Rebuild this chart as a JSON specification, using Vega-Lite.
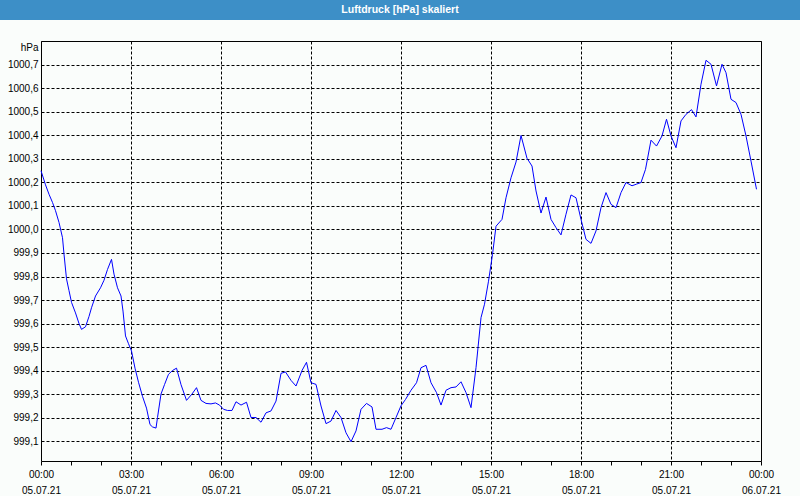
{
  "$schema": "https://vega.github.io/schema/vega-lite/v6.json",
  "padding": 0,
  "background": "#fafdfb",
  "spacing": 20,
  "vconcat": [
    {
      "width": 800,
      "height": 20,
      "view": {"fill": "#3d8fc7", "stroke": null},
      "data": {"values": [{"label": "Luftdruck [hPa] skaliert"}]},
      "mark": {"type": "text", "color": "white", "font": "Liberation Sans", "fontWeight": "bold", "fontSize": 10.5, "baseline": "middle", "align": "center"},
      "encoding": {"text": {"field": "label", "type": "nominal"}}
    },
    {
      "spacing": 0,
      "hconcat": [
        {
          "width": 1,
          "height": 420,
          "view": {"stroke": null},
          "data": {"values": [{"a": 1}]},
          "mark": {"type": "point", "opacity": 0, "size": 0, "strokeWidth": 0},
          "encoding": {}
        },
        {
          "width": 720,
          "height": 420,
          "view": {"stroke": "black", "strokeWidth": 1},
          "data": {"values": [
            {"t": "2021-07-05T00:00", "v": 1000.25},
            {"t": "2021-07-05T00:09", "v": 1000.19},
            {"t": "2021-07-05T00:16", "v": 1000.15},
            {"t": "2021-07-05T00:23", "v": 1000.115},
            {"t": "2021-07-05T00:29", "v": 1000.08},
            {"t": "2021-07-05T00:36", "v": 1000.03},
            {"t": "2021-07-05T00:43", "v": 999.965},
            {"t": "2021-07-05T00:46", "v": 999.895},
            {"t": "2021-07-05T00:51", "v": 999.79},
            {"t": "2021-07-05T00:56", "v": 999.74},
            {"t": "2021-07-05T01:01", "v": 999.69},
            {"t": "2021-07-05T01:09", "v": 999.645},
            {"t": "2021-07-05T01:16", "v": 999.6},
            {"t": "2021-07-05T01:21", "v": 999.575},
            {"t": "2021-07-05T01:29", "v": 999.586},
            {"t": "2021-07-05T01:36", "v": 999.63},
            {"t": "2021-07-05T01:41", "v": 999.667},
            {"t": "2021-07-05T01:49", "v": 999.717},
            {"t": "2021-07-05T01:59", "v": 999.752},
            {"t": "2021-07-05T02:06", "v": 999.784},
            {"t": "2021-07-05T02:13", "v": 999.83},
            {"t": "2021-07-05T02:21", "v": 999.873},
            {"t": "2021-07-05T02:26", "v": 999.81},
            {"t": "2021-07-05T02:33", "v": 999.752},
            {"t": "2021-07-05T02:40", "v": 999.717},
            {"t": "2021-07-05T02:44", "v": 999.653},
            {"t": "2021-07-05T02:49", "v": 999.547},
            {"t": "2021-07-05T02:55", "v": 999.514},
            {"t": "2021-07-05T03:01", "v": 999.483},
            {"t": "2021-07-05T03:08", "v": 999.41},
            {"t": "2021-07-05T03:15", "v": 999.35},
            {"t": "2021-07-05T03:23", "v": 999.29},
            {"t": "2021-07-05T03:31", "v": 999.24},
            {"t": "2021-07-05T03:38", "v": 999.17},
            {"t": "2021-07-05T03:43", "v": 999.16},
            {"t": "2021-07-05T03:50", "v": 999.155},
            {"t": "2021-07-05T03:53", "v": 999.2},
            {"t": "2021-07-05T04:00", "v": 999.3},
            {"t": "2021-07-05T04:07", "v": 999.34},
            {"t": "2021-07-05T04:15", "v": 999.384},
            {"t": "2021-07-05T04:23", "v": 999.4},
            {"t": "2021-07-05T04:31", "v": 999.41},
            {"t": "2021-07-05T04:40", "v": 999.34},
            {"t": "2021-07-05T04:51", "v": 999.273},
            {"t": "2021-07-05T05:02", "v": 999.3},
            {"t": "2021-07-05T05:11", "v": 999.327},
            {"t": "2021-07-05T05:20", "v": 999.273},
            {"t": "2021-07-05T05:30", "v": 999.26},
            {"t": "2021-07-05T05:40", "v": 999.258},
            {"t": "2021-07-05T05:49", "v": 999.262},
            {"t": "2021-07-05T05:57", "v": 999.253},
            {"t": "2021-07-05T06:05", "v": 999.235},
            {"t": "2021-07-05T06:13", "v": 999.23},
            {"t": "2021-07-05T06:22", "v": 999.23},
            {"t": "2021-07-05T06:30", "v": 999.267},
            {"t": "2021-07-05T06:40", "v": 999.253},
            {"t": "2021-07-05T06:51", "v": 999.265},
            {"t": "2021-07-05T07:00", "v": 999.2},
            {"t": "2021-07-05T07:10", "v": 999.2},
            {"t": "2021-07-05T07:20", "v": 999.18},
            {"t": "2021-07-05T07:30", "v": 999.22},
            {"t": "2021-07-05T07:40", "v": 999.228},
            {"t": "2021-07-05T07:50", "v": 999.27},
            {"t": "2021-07-05T08:00", "v": 999.388},
            {"t": "2021-07-05T08:09", "v": 999.394},
            {"t": "2021-07-05T08:20", "v": 999.358},
            {"t": "2021-07-05T08:30", "v": 999.334},
            {"t": "2021-07-05T08:42", "v": 999.4},
            {"t": "2021-07-05T08:51", "v": 999.435},
            {"t": "2021-07-05T09:00", "v": 999.348},
            {"t": "2021-07-05T09:10", "v": 999.341},
            {"t": "2021-07-05T09:20", "v": 999.249},
            {"t": "2021-07-05T09:30", "v": 999.174},
            {"t": "2021-07-05T09:40", "v": 999.185},
            {"t": "2021-07-05T09:50", "v": 999.23},
            {"t": "2021-07-05T10:00", "v": 999.2},
            {"t": "2021-07-05T10:10", "v": 999.135},
            {"t": "2021-07-05T10:20", "v": 999.097},
            {"t": "2021-07-05T10:30", "v": 999.143},
            {"t": "2021-07-05T10:40", "v": 999.235},
            {"t": "2021-07-05T10:51", "v": 999.26},
            {"t": "2021-07-05T11:02", "v": 999.245},
            {"t": "2021-07-05T11:10", "v": 999.15},
            {"t": "2021-07-05T11:22", "v": 999.15},
            {"t": "2021-07-05T11:31", "v": 999.157},
            {"t": "2021-07-05T11:40", "v": 999.15},
            {"t": "2021-07-05T11:50", "v": 999.2},
            {"t": "2021-07-05T12:00", "v": 999.25},
            {"t": "2021-07-05T12:09", "v": 999.277},
            {"t": "2021-07-05T12:20", "v": 999.316},
            {"t": "2021-07-05T12:31", "v": 999.348},
            {"t": "2021-07-05T12:40", "v": 999.412},
            {"t": "2021-07-05T12:50", "v": 999.422},
            {"t": "2021-07-05T13:00", "v": 999.348},
            {"t": "2021-07-05T13:11", "v": 999.306},
            {"t": "2021-07-05T13:20", "v": 999.253},
            {"t": "2021-07-05T13:30", "v": 999.316},
            {"t": "2021-07-05T13:40", "v": 999.327},
            {"t": "2021-07-05T13:50", "v": 999.33},
            {"t": "2021-07-05T14:00", "v": 999.352},
            {"t": "2021-07-05T14:10", "v": 999.306},
            {"t": "2021-07-05T14:20", "v": 999.242},
            {"t": "2021-07-05T14:30", "v": 999.412},
            {"t": "2021-07-05T14:40", "v": 999.625},
            {"t": "2021-07-05T14:47", "v": 999.682},
            {"t": "2021-07-05T14:55", "v": 999.78},
            {"t": "2021-07-05T15:03", "v": 999.894},
            {"t": "2021-07-05T15:10", "v": 1000.014},
            {"t": "2021-07-05T15:22", "v": 1000.043},
            {"t": "2021-07-05T15:30", "v": 1000.135},
            {"t": "2021-07-05T15:40", "v": 1000.22},
            {"t": "2021-07-05T15:50", "v": 1000.287},
            {"t": "2021-07-05T16:00", "v": 1000.4},
            {"t": "2021-07-05T16:12", "v": 1000.303},
            {"t": "2021-07-05T16:22", "v": 1000.27},
            {"t": "2021-07-05T16:30", "v": 1000.164},
            {"t": "2021-07-05T16:40", "v": 1000.07},
            {"t": "2021-07-05T16:50", "v": 1000.138},
            {"t": "2021-07-05T17:00", "v": 1000.043},
            {"t": "2021-07-05T17:10", "v": 1000.008},
            {"t": "2021-07-05T17:20", "v": 999.977},
            {"t": "2021-07-05T17:30", "v": 1000.065},
            {"t": "2021-07-05T17:40", "v": 1000.147},
            {"t": "2021-07-05T17:50", "v": 1000.135},
            {"t": "2021-07-05T18:00", "v": 1000.043},
            {"t": "2021-07-05T18:10", "v": 999.958},
            {"t": "2021-07-05T18:20", "v": 999.941},
            {"t": "2021-07-05T18:30", "v": 999.994},
            {"t": "2021-07-05T18:40", "v": 1000.093},
            {"t": "2021-07-05T18:50", "v": 1000.157},
            {"t": "2021-07-05T19:00", "v": 1000.107},
            {"t": "2021-07-05T19:10", "v": 1000.093},
            {"t": "2021-07-05T19:20", "v": 1000.157},
            {"t": "2021-07-05T19:30", "v": 1000.2},
            {"t": "2021-07-05T19:42", "v": 1000.186},
            {"t": "2021-07-05T19:51", "v": 1000.193},
            {"t": "2021-07-05T20:00", "v": 1000.2},
            {"t": "2021-07-05T20:09", "v": 1000.256},
            {"t": "2021-07-05T20:20", "v": 1000.38},
            {"t": "2021-07-05T20:31", "v": 1000.355},
            {"t": "2021-07-05T20:42", "v": 1000.398},
            {"t": "2021-07-05T20:51", "v": 1000.469},
            {"t": "2021-07-05T21:00", "v": 1000.398},
            {"t": "2021-07-05T21:10", "v": 1000.348},
            {"t": "2021-07-05T21:20", "v": 1000.462},
            {"t": "2021-07-05T21:30", "v": 1000.49},
            {"t": "2021-07-05T21:41", "v": 1000.51},
            {"t": "2021-07-05T21:50", "v": 1000.479},
            {"t": "2021-07-05T22:00", "v": 1000.618},
            {"t": "2021-07-05T22:10", "v": 1000.72},
            {"t": "2021-07-05T22:20", "v": 1000.703},
            {"t": "2021-07-05T22:31", "v": 1000.611},
            {"t": "2021-07-05T22:42", "v": 1000.703},
            {"t": "2021-07-05T22:50", "v": 1000.667},
            {"t": "2021-07-05T23:00", "v": 1000.554},
            {"t": "2021-07-05T23:10", "v": 1000.54},
            {"t": "2021-07-05T23:20", "v": 1000.49},
            {"t": "2021-07-05T23:30", "v": 1000.398},
            {"t": "2021-07-05T23:40", "v": 1000.291},
            {"t": "2021-07-05T23:51", "v": 1000.171}
          ]},
          "mark": {"type": "line", "color": "#0000ff", "strokeWidth": 1},
          "encoding": {
            "x": {
              "field": "t", "type": "temporal",
              "scale": {"domain": [{"year": 2021, "month": 7, "date": 5, "hours": 0}, {"year": 2021, "month": 7, "date": 6, "hours": 0}], "nice": false},
              "axis": {
                "title": null,
                "values": [
                  {"year": 2021, "month": 7, "date": 5, "hours": 0},
                  {"year": 2021, "month": 7, "date": 5, "hours": 1},
                  {"year": 2021, "month": 7, "date": 5, "hours": 2},
                  {"year": 2021, "month": 7, "date": 5, "hours": 3},
                  {"year": 2021, "month": 7, "date": 5, "hours": 4},
                  {"year": 2021, "month": 7, "date": 5, "hours": 5},
                  {"year": 2021, "month": 7, "date": 5, "hours": 6},
                  {"year": 2021, "month": 7, "date": 5, "hours": 7},
                  {"year": 2021, "month": 7, "date": 5, "hours": 8},
                  {"year": 2021, "month": 7, "date": 5, "hours": 9},
                  {"year": 2021, "month": 7, "date": 5, "hours": 10},
                  {"year": 2021, "month": 7, "date": 5, "hours": 11},
                  {"year": 2021, "month": 7, "date": 5, "hours": 12},
                  {"year": 2021, "month": 7, "date": 5, "hours": 13},
                  {"year": 2021, "month": 7, "date": 5, "hours": 14},
                  {"year": 2021, "month": 7, "date": 5, "hours": 15},
                  {"year": 2021, "month": 7, "date": 5, "hours": 16},
                  {"year": 2021, "month": 7, "date": 5, "hours": 17},
                  {"year": 2021, "month": 7, "date": 5, "hours": 18},
                  {"year": 2021, "month": 7, "date": 5, "hours": 19},
                  {"year": 2021, "month": 7, "date": 5, "hours": 20},
                  {"year": 2021, "month": 7, "date": 5, "hours": 21},
                  {"year": 2021, "month": 7, "date": 5, "hours": 22},
                  {"year": 2021, "month": 7, "date": 5, "hours": 23},
                  {"year": 2021, "month": 7, "date": 6, "hours": 0}
                ],
                "domain": false,
                "ticks": true, "tickSize": 4, "tickColor": "black", "tickWidth": 1,
                "grid": true, "gridColor": "black", "gridDash": [3, 2], "gridWidth": 1,
                "gridOpacity": {"condition": {"test": "hours(datum.value) % 3 === 0", "value": 1}, "value": 0},
                "labelExpr": "hours(datum.value) % 3 === 0 ? [timeFormat(datum.value, '%H:%M'), timeFormat(datum.value, '%d.%m.%y')] : ''",
                "labelFont": "Liberation Sans", "labelFontSize": 10, "labelColor": "black",
                "labelBaseline": "top", "labelLineHeight": 16, "labelPadding": 4,
                "labelFlush": false, "labelOverlap": false
              }
            },
            "y": {
              "field": "v", "type": "quantitative",
              "scale": {"domain": [999.015, 1000.802], "nice": false, "zero": false},
              "axis": {
                "title": "hPa", "titleAngle": 0, "titleAlign": "right", "titleBaseline": "middle",
                "titleX": -3, "titleY": 6, "titlePadding": 0,
                "titleFont": "Liberation Sans", "titleFontSize": 10, "titleFontWeight": "normal", "titleColor": "black",
                "values": [999.1, 999.2, 999.3, 999.4, 999.5, 999.6, 999.7, 999.8, 999.9, 1000.0, 1000.1, 1000.2, 1000.3, 1000.4, 1000.5, 1000.6, 1000.7],
                "labelExpr": "replace(format(datum.value, '.1f'), '.', ',')",
                "labelFont": "Liberation Sans", "labelFontSize": 10, "labelColor": "black", "labelPadding": 3,
                "domain": false, "ticks": false,
                "grid": true, "gridColor": "black", "gridDash": [3, 2], "gridOpacity": 1, "gridWidth": 1,
                "minExtent": 39, "maxExtent": 39
              }
            }
          }
        }
      ]
    }
  ]
}
